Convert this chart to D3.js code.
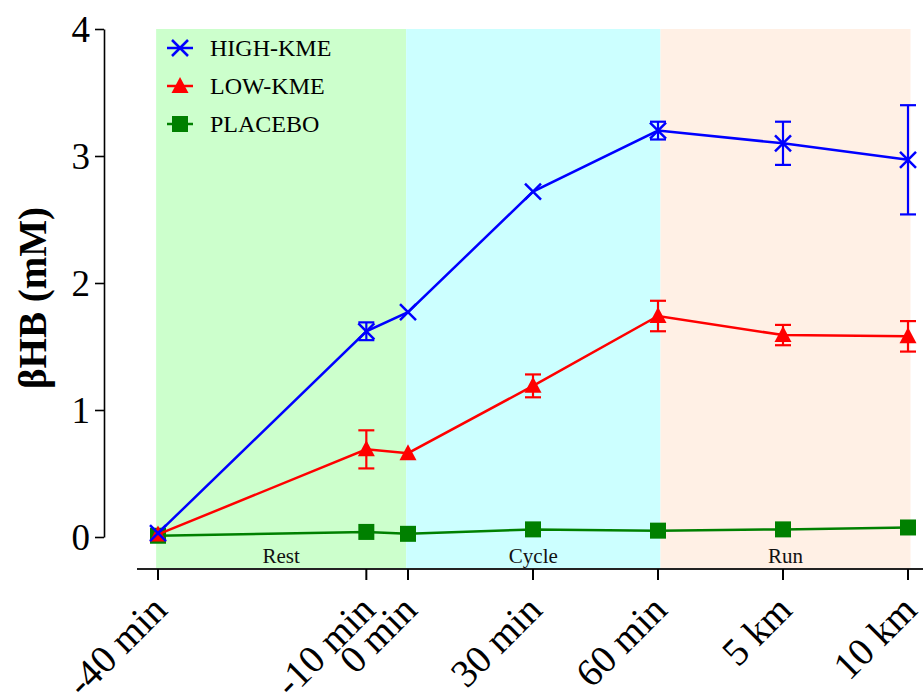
<!DOCTYPE html>
<html>
<head>
<meta charset="utf-8">
<script src="https://cdn.jsdelivr.net/npm/d3@7"></script>
<style>
  html, body { margin: 0; padding: 0; background: #fff; }
  svg { display: block; font-family: "Liberation Serif", "Times New Roman", serif; }
</style>
</head>
<body>
<div id="chart"></div>
<script>
/* ── data ── */
const timeLabels = ['-40 min', '-10 min', '0 min', '30 min', '60 min', '5 km', '10 km'];
const timePos    = [0, 5 / 3, 2, 3, 4, 5, 6];

const highMean = [0.03, 1.62, 1.77, 2.72, 3.20, 3.10, 2.97];
const highErr  = [0, 0.07, 0, 0, 0.07, 0.17, 0.43];
const lowMean  = [0.02, 0.69, 0.66, 1.19, 1.74, 1.59, 1.58];
const lowErr   = [0, 0.15, 0, 0.09, 0.12, 0.08, 0.12];
const placMean = [0.01, 0.04, 0.025, 0.06, 0.05, 0.06, 0.075];

const phaseNames  = ['Rest', 'Cycle', 'Run'];
const phaseBounds = [-0.015, 1.985, 4.02, 6.02];
const phaseFills  = ['#ccffcc', '#ccffff', '#fff0e5'];

const yTicks = [0, 1, 2, 3, 4];

const series = [
    { name: 'PLACEBO',  mean: placMean, err: null,    color: '#008000', marker: 'square' },
    { name: 'LOW-KME',  mean: lowMean,  err: lowErr,  color: '#ff0000', marker: 'triangle' },
    { name: 'HIGH-KME', mean: highMean, err: highErr, color: '#0000ff', marker: 'cross' }
];
const legendOrder = ['HIGH-KME', 'LOW-KME', 'PLACEBO'];

/* ── layout ── */
const W = 923, H = 693;
const AXIS_Y = 569;

const x = d3.scaleLinear().domain([0, 6]).range([158, 908]);
const y = d3.scaleLinear().domain([0, 4]).range([537, 29]);

const svg = d3.select('#chart').append('svg')
    .attr('width', W).attr('height', H);

const phases = phaseNames.map((name, i) => ({
    name, from: phaseBounds[i], to: phaseBounds[i + 1], fill: phaseFills[i]
}));

/* phase bands */
svg.append('g').selectAll('rect').data(phases).join('rect')
    .attr('x', d => x(d.from))
    .attr('width', d => x(d.to) - x(d.from))
    .attr('y', y(4))
    .attr('height', AXIS_Y - y(4))
    .attr('fill', d => d.fill);

svg.append('g').selectAll('text').data(phases).join('text')
    .attr('x', d => x((d.from + d.to) / 2))
    .attr('y', 563)
    .attr('text-anchor', 'middle')
    .attr('font-size', 21)
    .attr('fill', '#111')
    .text(d => d.name);

/* y axis */
const yAxis = svg.append('g')
    .attr('transform', `translate(104,0)`)
    .call(d3.axisLeft(y).tickValues(yTicks).tickFormat(d3.format('d'))
        .tickSize(9).tickSizeOuter(0).tickPadding(5));
yAxis.select('.domain').attr('stroke-width', 1.6);
yAxis.selectAll('.tick line').attr('stroke-width', 1.6);
yAxis.selectAll('.tick text')
    .attr('font-size', 37)
    .attr('font-family', '"Liberation Serif", "Times New Roman", serif')
    .attr('fill', '#000')
    .attr('dy', '0.34em');

svg.append('text')
    .attr('transform', `translate(46,298) rotate(-90)`)
    .attr('text-anchor', 'middle')
    .attr('font-size', 39)
    .attr('font-weight', 'bold')
    .text('βHB (mM)');

/* x axis */
svg.append('line')
    .attr('x1', 137).attr('x2', W)
    .attr('y1', AXIS_Y).attr('y2', AXIS_Y)
    .attr('stroke', '#222').attr('stroke-width', 2);

const xTick = svg.append('g').selectAll('g').data(timeLabels).join('g')
    .attr('transform', (d, i) => `translate(${x(timePos[i])},${AXIS_Y})`);
xTick.append('line')
    .attr('y1', 0).attr('y2', 11)
    .attr('stroke', '#000').attr('stroke-width', 2);
xTick.append('text')
    .attr('transform', 'translate(11,43) rotate(-45)')
    .attr('text-anchor', 'end')
    .attr('font-size', 39)
    .text(d => d);

/* markers */
function drawMarker(g, type, color) {
    if (type === 'cross') {
        g.append('path')
            .attr('d', 'M-8,-8L8,8M-8,8L8,-8')
            .attr('stroke', color).attr('stroke-width', 2.5).attr('fill', 'none');
    } else if (type === 'triangle') {
        g.append('path')
            .attr('d', 'M0,-9L8.5,7L-8.5,7Z')
            .attr('fill', color);
    } else {
        g.append('rect')
            .attr('x', -8).attr('y', -8).attr('width', 16).attr('height', 16)
            .attr('fill', color);
    }
}

const line = d3.line()
    .x(d => x(d.p))
    .y(d => y(d.v));

series.forEach(s => {
    const pts = s.mean.map((v, i) => ({ p: timePos[i], v, e: s.err ? s.err[i] : 0 }));
    const g = svg.append('g');

    /* error bars */
    const eb = g.selectAll('.eb').data(pts.filter(d => d.e > 0)).join('g').attr('class', 'eb');
    eb.append('line')
        .attr('x1', d => x(d.p)).attr('x2', d => x(d.p))
        .attr('y1', d => y(d.v - d.e)).attr('y2', d => y(d.v + d.e));
    eb.append('line')
        .attr('x1', d => x(d.p) - 8).attr('x2', d => x(d.p) + 8)
        .attr('y1', d => y(d.v + d.e)).attr('y2', d => y(d.v + d.e));
    eb.append('line')
        .attr('x1', d => x(d.p) - 8).attr('x2', d => x(d.p) + 8)
        .attr('y1', d => y(d.v - d.e)).attr('y2', d => y(d.v - d.e));
    eb.selectAll('line').attr('stroke', s.color).attr('stroke-width', 2.2);

    g.append('path')
        .datum(pts)
        .attr('d', line)
        .attr('fill', 'none')
        .attr('stroke', s.color)
        .attr('stroke-width', 2.5);

    g.selectAll('.mk').data(pts).join('g')
        .attr('class', 'mk')
        .attr('transform', d => `translate(${x(d.p)},${y(d.v)})`)
        .each(function() { drawMarker(d3.select(this), s.marker, s.color); });
});

/* legend */
const leg = svg.append('g').selectAll('g')
    .data(legendOrder.map(n => series.find(s => s.name === n)))
    .join('g')
    .attr('transform', (d, i) => `translate(180,${48 + i * 38})`);
leg.append('line')
    .attr('x1', -13).attr('x2', 13)
    .attr('stroke', d => d.color).attr('stroke-width', 2.5);
leg.each(function(d) { drawMarker(d3.select(this), d.marker, d.color); });
leg.append('text')
    .attr('x', 30)
    .attr('dy', '0.35em')
    .attr('font-size', 24)
    .text(d => d.name);
</script>
</body>
</html>
